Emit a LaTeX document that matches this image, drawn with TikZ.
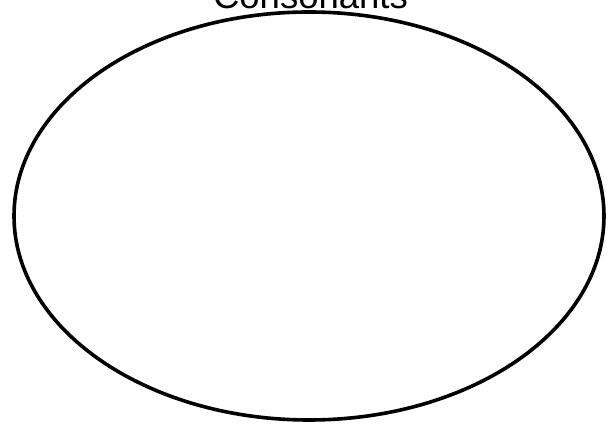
\documentclass[tikz,border=0pt]{standalone}
\usepackage{fontspec}
\setmainfont{Liberation Sans}
\usetikzlibrary{shapes.geometric}
\begin{document}
\begin{tikzpicture}[x=1pt,y=1pt,
  setshape/.style={ellipse, draw=black, line width=3.6pt, minimum width=590pt, minimum height=408pt, inner sep=0pt},
  setlabel/.style={font=\fontsize{36.5}{40}\selectfont, anchor=base, inner sep=0pt}]
\useasboundingbox (0,0) rectangle (611,428);
\node[setshape] (set) at (309,212) {};
\node[setlabel] (lbl) at (310.5,419) {Consonants};
\end{tikzpicture}
\end{document}
